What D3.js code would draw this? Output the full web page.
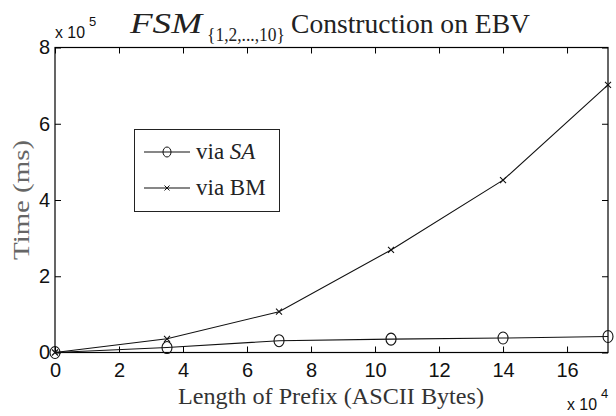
<!DOCTYPE html>
<html>
<head>
<meta charset="utf-8">
<script src="https://cdn.jsdelivr.net/npm/d3@7"></script>
<style>
  body { margin: 0; background: #fff; }
  svg { display: block; }
</style>
</head>
<body>
<div id="graph"></div>
<script>
'use strict';

// prefix length in ASCII bytes
const prefixLengths = [0, 35000, 70000, 105000, 140000, 172800];
// construction time in ms
const viaSA = [0, 13000, 31000, 35000, 38000, 42000];
const viaBM = [0, 36000, 107000, 269000, 452000, 702000];

const xTicks = [0, 20000, 40000, 60000, 80000, 100000, 120000, 140000, 160000];
const yTicks = [0, 200000, 400000, 600000, 800000];

const width = 616, height = 416;
const margin = {top: 47.5, right: 8, bottom: 63.5, left: 55};

const svg = d3.select('#graph')
    .append('svg')
    .attr('width', width)
    .attr('height', height);

const x = d3.scaleLinear()
    .domain([0, 172800])
    .range([margin.left, width - margin.right]);
const y = d3.scaleLinear()
    .domain([0, 800000])
    .range([height - margin.bottom, margin.top]);

const sans = 'Liberation Sans, Arial, sans-serif';
const serif = 'Liberation Serif, Times New Roman, serif';

// axes, ticks pointing inwards
const bottom = svg.append('g')
    .attr('transform', `translate(0,${y(0)})`)
    .call(d3.axisBottom(x).tickValues(xTicks).tickSizeInner(-6).tickSizeOuter(0)
        .tickPadding(10).tickFormat(d => d / 10000));
const left = svg.append('g')
    .attr('transform', `translate(${x(0)},0)`)
    .call(d3.axisLeft(y).tickValues(yTicks).tickSizeInner(-6).tickSizeOuter(0)
        .tickPadding(5).tickFormat(d => d / 100000));
svg.append('g')
    .attr('transform', `translate(0,${y(800000)})`)
    .call(d3.axisTop(x).tickValues(xTicks).tickSizeInner(-6).tickSizeOuter(0).tickFormat(''));
svg.append('g')
    .attr('transform', `translate(${x(172800)},0)`)
    .call(d3.axisRight(y).tickValues(yTicks).tickSizeInner(-6).tickSizeOuter(0).tickFormat(''));

svg.selectAll('.domain').remove();
svg.selectAll('.tick line').attr('stroke', '#000');
[bottom, left].forEach(g => g
    .attr('font-family', sans)
    .attr('font-size', 20)
    .selectAll('text')
    .attr('fill', '#111'));

// frame
svg.append('rect')
    .attr('x', x(0))
    .attr('y', y(800000))
    .attr('width', x(172800) - x(0))
    .attr('height', y(0) - y(800000))
    .attr('fill', 'none')
    .attr('stroke', '#000')
    .attr('stroke-width', 1.2);

// exponent labels
function exponent(px, py, power) {
    const t = svg.append('text')
        .attr('x', px).attr('y', py)
        .attr('font-family', sans)
        .attr('font-size', 17)
        .attr('fill', '#111');
    t.append('tspan').attr('textLength', 30).attr('lengthAdjust', 'spacingAndGlyphs').text('x 10');
    t.append('tspan').attr('x', px + 34).attr('dy', -12).attr('font-size', 13).text(power);
}
exponent(55, 38, '5');
exponent(567, 410, '4');

// title
const title = svg.append('text')
    .attr('x', 130).attr('y', 33)
    .attr('font-family', serif)
    .attr('fill', '#222');
title.append('tspan').attr('font-size', 29).attr('font-style', 'italic')
    .attr('textLength', 72).attr('lengthAdjust', 'spacingAndGlyphs').text('FSM');
title.append('tspan').attr('x', 207).attr('dy', 8).attr('font-size', 19)
    .attr('textLength', 78).attr('lengthAdjust', 'spacingAndGlyphs').text('{1,2,...,10}');
title.append('tspan').attr('x', 291).attr('dy', -8).attr('font-size', 27)
    .attr('textLength', 239).attr('lengthAdjust', 'spacingAndGlyphs').text('Construction on EBV');

// axis titles
svg.append('text')
    .attr('x', 331).attr('y', 404)
    .attr('text-anchor', 'middle')
    .attr('font-family', serif)
    .attr('font-size', 24)
    .attr('fill', '#333')
    .attr('textLength', 306).attr('lengthAdjust', 'spacingAndGlyphs')
    .text('Length of Prefix (ASCII Bytes)');

svg.append('text')
    .attr('transform', 'translate(29,200) rotate(-90)')
    .attr('text-anchor', 'middle')
    .attr('font-family', serif)
    .attr('font-size', 24)
    .attr('fill', '#666')
    .attr('textLength', 120).attr('lengthAdjust', 'spacingAndGlyphs')
    .text('Time (ms)');

// series
const line = d3.line()
    .x(d => x(d[0]))
    .y(d => y(d[1]));

const saData = prefixLengths.map((p, i) => [p, viaSA[i]]);
const bmData = prefixLengths.map((p, i) => [p, viaBM[i]]);

const plot = svg.append('g')
    .attr('fill', 'none')
    .attr('stroke', '#111')
    .attr('stroke-width', 1.1);

plot.append('path').attr('d', line(saData));
plot.append('path').attr('d', line(bmData));

plot.append('g')
    .selectAll('ellipse')
    .data(saData)
    .join('ellipse')
    .attr('cx', d => x(d[0]))
    .attr('cy', d => y(d[1]))
    .attr('rx', 5)
    .attr('ry', 6);

const cross = 3;
plot.append('g')
    .selectAll('path')
    .data(bmData)
    .join('path')
    .attr('d', d => {
        const cx = x(d[0]), cy = y(d[1]);
        return `M${cx - cross},${cy - cross}L${cx + cross},${cy + cross}M${cx - cross},${cy + cross}L${cx + cross},${cy - cross}`;
    });

// legend
const legend = svg.append('g');
legend.append('rect')
    .attr('x', 134.5).attr('y', 129.5)
    .attr('width', 145).attr('height', 82)
    .attr('fill', '#fff')
    .attr('stroke', '#222');

const entries = [
    {label: 'SA', italic: true, marker: 'circle', y: 152},
    {label: 'BM', italic: false, marker: 'cross', y: 188}
];
entries.forEach(e => {
    legend.append('line')
        .attr('x1', 144).attr('x2', 190)
        .attr('y1', e.y).attr('y2', e.y)
        .attr('stroke', '#111').attr('stroke-width', 1.1);
    if (e.marker === 'circle') {
        legend.append('ellipse')
            .attr('cx', 167).attr('cy', e.y)
            .attr('rx', 4).attr('ry', 5)
            .attr('fill', 'none').attr('stroke', '#111');
    } else {
        legend.append('path')
            .attr('d', `M164.5,${e.y - 2.5}L169.5,${e.y + 2.5}M164.5,${e.y + 2.5}L169.5,${e.y - 2.5}`)
            .attr('stroke', '#111');
    }
    const t = legend.append('text')
        .attr('x', 196).attr('y', e.y + 7)
        .attr('font-family', serif)
        .attr('font-size', 23)
        .attr('fill', '#222');
    t.append('tspan').text('via ');
    t.append('tspan').attr('font-style', e.italic ? 'italic' : 'normal').text(e.label);
});
</script>
</body>
</html>
